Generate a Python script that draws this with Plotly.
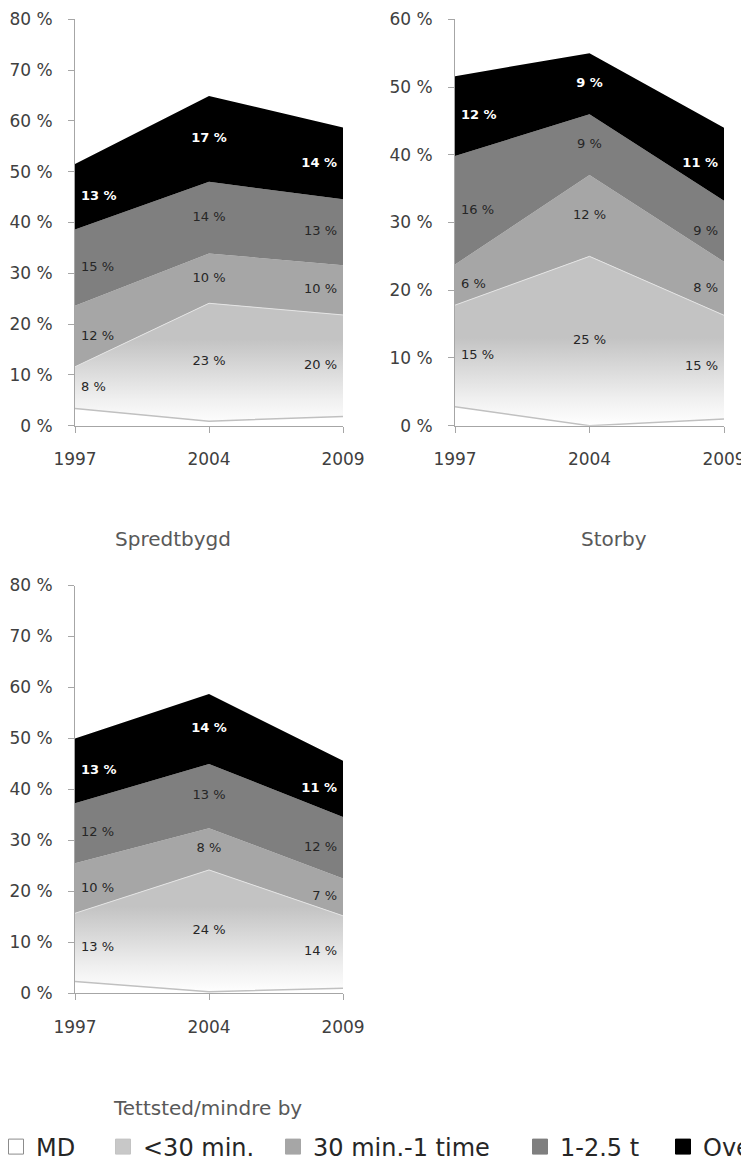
import plotly.graph_objects as go

# categories / series
years = ["1997", "2004", "2009"]
series_names = ["MD", "<30 min.", "30 min.-1 time", "1-2.5 t", "Over 2.5 t"]
chart_titles = ["Spredtbygd", "Storby", "Tettsted/mindre by"]

# Spredtbygd (share of respondents, %)
spredtbygd_md = [3.4, 0.9, 1.8]
spredtbygd_u30 = [8.2, 23.2, 20.0]
spredtbygd_30_60 = [12.0, 9.8, 9.8]
spredtbygd_1_25 = [15.0, 14.1, 13.0]
spredtbygd_over = [12.9, 16.9, 14.1]

# Storby
storby_md = [2.8, 0.0, 1.0]
storby_u30 = [15.0, 25.0, 15.3]
storby_30_60 = [6.0, 12.0, 7.9]
storby_1_25 = [16.0, 9.0, 9.0]
storby_over = [11.8, 9.0, 10.8]

# Tettsted/mindre by
tettsted_md = [2.3, 0.3, 1.0]
tettsted_u30 = [13.4, 23.9, 14.2]
tettsted_30_60 = [9.8, 8.2, 7.3]
tettsted_1_25 = [11.8, 12.6, 12.1]
tettsted_over = [12.7, 13.7, 11.0]

FONT = "DejaVu Sans"
# the page body keeps its default 8px margin, so the figure is drawn 8px in
OFF = 8
W, H = 749 - OFF, 1162 - OFF

fills = ["#ffffff", "#c3c3c3", "#a6a6a6", "#7f7f7f", "#000000"]
label_colors = [None, "#262626", "#262626", "#262626", "#ffffff"]

panels = [
    dict(series=[spredtbygd_md, spredtbygd_u30, spredtbygd_30_60, spredtbygd_1_25, spredtbygd_over],
         xa="x", ya="y", ymax=80, grad_stop=17),
    dict(series=[storby_md, storby_u30, storby_30_60, storby_1_25, storby_over],
         xa="x2", ya="y2", ymax=60, grad_stop=13),
    dict(series=[tettsted_md, tettsted_u30, tettsted_30_60, tettsted_1_25, tettsted_over],
         xa="x3", ya="y3", ymax=80, grad_stop=17),
]


def pct(v):
    return f"{int(v + 0.5)} %"


fig = go.Figure()

for pi, p in enumerate(panels):
    grp = f"stack{pi}"
    base = [0.0, 0.0, 0.0]
    for si, vals in enumerate(p["series"]):
        tr = dict(x=years, y=vals, stackgroup=grp, xaxis=p["xa"], yaxis=p["ya"],
                  name=series_names[si], showlegend=False, hoverinfo="skip",
                  fillcolor=fills[si])
        if si == 0:
            tr.update(mode="lines", line=dict(color="#c0c0c0", width=1.5))
        elif si == 1:
            tr.update(mode="lines", line=dict(color="#e4e4e4", width=1),
                      fillgradient=dict(type="vertical", start=0, stop=p["grad_stop"],
                                        colorscale=[[0, "#ffffff"], [0.3, "#f0f0f0"], [1, "#c3c3c3"]]))
        else:
            tr.update(mode="none")
        fig.add_trace(go.Scatter(**tr))

        if si > 0:
            mids = [b + v / 2 for b, v in zip(base, vals)]
            fig.add_trace(go.Scatter(
                x=years, y=mids, mode="markers+text", text=[pct(v) for v in vals],
                marker=dict(size=8, opacity=0),
                textposition=["middle right", "middle center", "middle left"],
                textfont=dict(family=FONT, size=13, color=label_colors[si],
                              weight="bold" if si == 4 else "normal"),
                xaxis=p["xa"], yaxis=p["ya"], showlegend=False, hoverinfo="skip",
                cliponaxis=False))
        base = [b + v for b, v in zip(base, vals)]

# legend entries (one legend per entry so they sit like the original row)
legend_left = [-12, 95, 265, 512, 655]
for si, name in enumerate(series_names):
    lg = "legend" if si == 0 else f"legend{si + 1}"
    fig.add_trace(go.Scatter(
        x=[None], y=[None], mode="markers", name=name, legend=lg,
        marker=dict(symbol="square", size=15, color=fills[si] if si != 1 else "#c8c8c8",
                    line=dict(color="#8c8c8c" if si == 0 else fills[si], width=1))))


def yaxis(dom, top, anchor):
    return dict(domain=dom, range=[0, top], dtick=10, tick0=0, ticksuffix=" %",
                showline=True, linecolor="#a6a6a6", linewidth=1, ticks="outside",
                ticklen=6, tickcolor="#a6a6a6", showgrid=False, zeroline=False,
                tickfont=dict(family=FONT, size=17, color="#404040"),
                ticklabelstandoff=12, anchor=anchor, fixedrange=True)


def xaxis(dom, anchor):
    return dict(domain=dom, type="category", range=[0, 2], showline=True,
                linecolor="#a6a6a6", linewidth=1, ticks="outside", ticklen=6,
                tickcolor="#a6a6a6", showgrid=False, zeroline=False,
                tickfont=dict(family=FONT, size=17, color="#404040"),
                ticklabelstandoff=12, anchor=anchor, fixedrange=True)


def px_x(v):
    return (v - OFF) / W


def px_y(v):
    return 1 - (v - OFF) / H


top_dom = [px_y(425.7), px_y(19.3)]
bot_dom = [px_y(993.3), px_y(585.5)]

legends = {}
for si in range(len(series_names)):
    key = "legend" if si == 0 else f"legend{si + 1}"
    legends[key] = dict(x=px_x(legend_left[si] + OFF), xanchor="left", y=px_y(1147),
                        yanchor="middle", orientation="h", bgcolor="rgba(0,0,0,0)",
                        font=dict(family=FONT, size=24, color="#262626"),
                        itemclick=False, itemdoubleclick=False)

title_pos = [(113, 539), (579, 539), (111, 1108)]
annotations = [
    dict(text=t, xref="paper", yref="paper", x=px_x(xp), y=px_y(yp),
         xanchor="left", yanchor="middle", showarrow=False,
         font=dict(family=FONT, size=20, color="#595959"))
    for t, (xp, yp) in zip(chart_titles, title_pos)
]

fig.update_layout(
    width=W, height=H,
    margin=dict(l=0, r=0, t=0, b=0, pad=0, autoexpand=False),
    paper_bgcolor="white", plot_bgcolor="white",
    font=dict(family=FONT),
    showlegend=True,
    xaxis=xaxis([px_x(75), px_x(343)], "y"),
    yaxis=yaxis(top_dom, 80, "x"),
    xaxis2=xaxis([px_x(455), px_x(724)], "y2"),
    yaxis2=yaxis(top_dom, 60, "x2"),
    xaxis3=xaxis([px_x(75), px_x(343)], "y3"),
    yaxis3=yaxis(bot_dom, 80, "x3"),
    annotations=annotations,
    **legends,
)

fig.write_html("out.html")
